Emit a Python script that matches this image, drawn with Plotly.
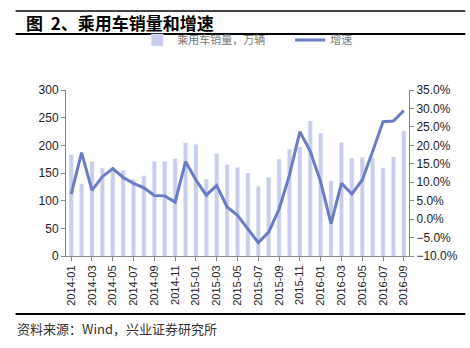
import plotly.graph_objects as go

months = [f"{y}-{m:02d}" for y in (2014, 2015, 2016) for m in range(1, 13)][:33]
sales = [183, 130, 171, 159, 160, 155, 138, 145, 171, 171, 176, 205,
         202, 139, 185, 165, 160, 150, 126, 142, 175, 193, 197, 244,
         222, 136, 205, 177, 178, 177, 159, 179, 226]
growth = [6.8, 18.0, 7.8, 11.5, 13.7, 11.3, 9.7, 8.5, 6.4, 6.3, 4.6, 15.6,
          10.6, 6.5, 9.1, 3.3, 1.0, -2.6, -6.4, -3.5, 2.7, 11.9, 23.7, 18.4,
          10.1, -1.2, 9.7, 6.8, 10.6, 18.3, 26.4, 26.6, 29.4]
tick_labels = months[::2]

L, R, T, B = 66, 57, 90, 92
W, H = 470, 348
pw, ph = W - L - R, H - T - B
def px(x): return (x - L) / pw
def py(y): return (H - B - y) / ph

fig = go.Figure()
fig.add_trace(go.Bar(x=months, y=sales, name="乘用车销量，万辆",
                     marker_color="#c9cdeb", yaxis="y"))
fig.add_trace(go.Scatter(x=months, y=growth, name="增速", mode="lines",
                         line=dict(color="#6a7cc3", width=3), yaxis="y2"))

axis_font = dict(family="Liberation Sans, Arial", size=12, color="#222")
fig.update_layout(
    width=W, height=H, margin=dict(l=L, r=R, t=T, b=B),
    paper_bgcolor="white", plot_bgcolor="white",
    bargap=0.6, showlegend=True,
    legend=dict(orientation="h", x=px(138), y=py(40), xanchor="left", yanchor="middle",
                font=dict(family="Noto Sans CJK SC", size=11, color="#777"),
                bgcolor="rgba(0,0,0,0)", itemwidth=30, entrywidth=108),
    xaxis=dict(type="category", tickmode="array", tickvals=tick_labels, ticktext=tick_labels,
               tickangle=-90, showline=True, linecolor="#888", ticks="outside",
               ticklen=4, tickcolor="#888", showgrid=False,
               tickfont=dict(family="Liberation Sans, Arial", size=11, color="#222")),
    yaxis=dict(range=[0, 300], dtick=50, showline=True, linecolor="#888", ticks="outside",
               ticklen=4, tickcolor="#888", showgrid=False, zeroline=False, tickfont=axis_font),
    yaxis2=dict(range=[-10, 35], dtick=5, overlaying="y", side="right", showline=True,
                linecolor="#888", ticks="outside", ticklen=4, tickcolor="#888",
                showgrid=False, zeroline=False, tickformat=".1f", ticksuffix="%",
                tickfont=axis_font),
)

shapes = [
    dict(type="line", xref="paper", yref="paper", x0=px(15), x1=px(470), y0=py(11), y1=py(11),
         line=dict(color="#444", width=2)),
    dict(type="line", xref="paper", yref="paper", x0=px(15), x1=px(470), y0=py(34), y1=py(34),
         line=dict(color="#000", width=2)),
    dict(type="line", xref="paper", yref="paper", x0=px(15), x1=px(470), y0=py(314), y1=py(314),
         line=dict(color="#000", width=2)),
]
fig.update_layout(shapes=shapes)
fig.add_annotation(text="<b>图&nbsp;&nbsp;2、乘用车销量和增速</b>", xref="paper", yref="paper",
                   x=px(24), y=py(22), xanchor="left", yanchor="middle", showarrow=False,
                   font=dict(family="Noto Sans CJK SC", size=17, color="#000"))
fig.add_annotation(text="资料来源：Wind，兴业证券研究所", xref="paper", yref="paper",
                   x=px(14), y=py(328), xanchor="left", yanchor="middle", showarrow=False,
                   font=dict(family="Noto Sans CJK SC", size=13, color="#333"))

fig.write_html("out.html")
